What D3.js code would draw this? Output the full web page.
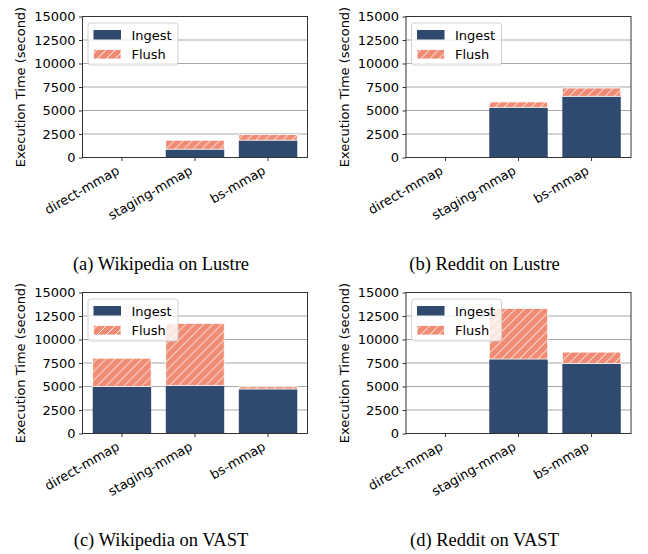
<!DOCTYPE html>
<html>
<head>
<meta charset="UTF-8">
<title>Execution Time</title>
<script src="https://d3js.org/d3.v7.min.js"></script>
<style>
  body {margin: 0; background: #fff;}
  svg text {font-family: "DejaVu Sans", sans-serif; fill: #000;}
  .caption {font-family: "Liberation Serif", "Times New Roman", serif; font-size: 18.5px;}
</style>
</head>
<body>
<div id="chart"></div>
<script>
var categories = ["direct-mmap", "staging-mmap", "bs-mmap"];
var yTicks = [0, 2500, 5000, 7500, 10000, 12500, 15000];
var seriesNames = ["Ingest", "Flush"];

var wikiLustreIngest = [0, 880, 1840],
    wikiLustreFlush = [0, 960, 600];
var redditLustreIngest = [0, 5340, 6510],
    redditLustreFlush = [0, 570, 880];
var wikiVastIngest = [5010, 5120, 4730],
    wikiVastFlush = [3000, 6600, 250];
var redditVastIngest = [0, 7920, 7460],
    redditVastFlush = [0, 5390, 1200];

var captions = ["(a) Wikipedia on Lustre", "(b) Reddit on Lustre",
                "(c) Wikipedia on VAST", "(d) Reddit on VAST"];

var panels = [
  {ingest: wikiLustreIngest, flush: wikiLustreFlush, ox: 0, oy: 0},
  {ingest: redditLustreIngest, flush: redditLustreFlush, ox: 323.5, oy: 0},
  {ingest: wikiVastIngest, flush: wikiVastFlush, ox: 0, oy: 276},
  {ingest: redditVastIngest, flush: redditVastFlush, ox: 323.5, oy: 276}
];

var ingestColor = "#2f4a6e",
    flushColor = "#ef8c73";

var W = 648, H = 554;
var plotW = 225, plotH = 141;

var svg = d3.select("#chart").append("svg")
    .attr("width", W)
    .attr("height", H);

// hatch for the flush bars
var hs = 9;
var defs = svg.append("defs");
var pat = defs.append("pattern")
    .attr("id", "hatch")
    .attr("patternUnits", "userSpaceOnUse")
    .attr("width", hs)
    .attr("height", hs);
pat.append("rect").attr("width", hs).attr("height", hs).attr("fill", flushColor);
pat.append("path")
    .attr("d", "M-2,2 L2,-2 M0," + hs + " L" + hs + ",0 M" + (hs - 2) + "," + (hs + 2) + " L" + (hs + 2) + "," + (hs - 2))
    .attr("stroke", "#fff")
    .attr("stroke-width", 0.9);

var x = d3.scaleBand()
    .domain(categories)
    .range([0, plotW])
    .paddingInner(0.2)
    .paddingOuter(0.14);

var y = d3.scaleLinear()
    .domain([0, 15000])
    .range([plotH, 0]);

panels.forEach(function(p, k) {
  var g = svg.append("g")
      .attr("transform", "translate(" + (p.ox + 82.5) + "," + (p.oy + 16.5) + ")");

  // grid
  g.selectAll(".grid").data(yTicks).enter().append("line")
      .attr("x1", 0).attr("x2", plotW)
      .attr("y1", function(d) {return y(d)})
      .attr("y2", function(d) {return y(d)})
      .attr("stroke", "#a8a8a8")
      .attr("stroke-width", 1);

  // bars
  g.selectAll(".ingest").data(p.ingest).enter().append("rect")
      .attr("x", function(d, i) {return x(categories[i])})
      .attr("width", x.bandwidth())
      .attr("y", function(d) {return y(d)})
      .attr("height", function(d) {return plotH - y(d)})
      .attr("fill", ingestColor);

  var stacked = p.flush.map(function(d, i) {return {cat: categories[i], base: p.ingest[i], v: d}})
      .filter(function(d) {return d.v > 0});
  g.selectAll(".flush").data(stacked).enter().append("rect")
      .attr("x", function(d) {return x(d.cat)})
      .attr("width", x.bandwidth())
      .attr("y", function(d) {return y(d.base + d.v)})
      .attr("height", function(d) {return plotH - y(d.v)})
      .attr("fill", "url(#hatch)")
      .attr("stroke", "#fff")
      .attr("stroke-width", 0.8);

  // y axis
  var yAxis = d3.axisLeft(y).tickValues(yTicks).tickSize(3.5).tickPadding(3.5)
      .tickFormat(d3.format("d"));
  var ya = g.append("g").call(yAxis);
  ya.select(".domain").remove();
  ya.selectAll("line").attr("stroke", "#333");
  ya.selectAll("text").style("font-size", "13px").attr("fill", "#000");

  // x axis
  var xAxis = d3.axisBottom(x).tickSize(3.5).tickPadding(0);
  var xa = g.append("g").attr("transform", "translate(0," + plotH + ")").call(xAxis);
  xa.select(".domain").remove();
  xa.selectAll("line").attr("stroke", "#333");
  xa.selectAll("text")
      .style("font-size", "13px")
      .attr("fill", "#000")
      .attr("text-anchor", "end")
      .attr("y", 0).attr("dy", 0)
      .attr("transform", "translate(-1.6,15.6) rotate(-30)");

  // frame
  g.append("rect")
      .attr("width", plotW).attr("height", plotH)
      .attr("fill", "none")
      .attr("stroke", "#333")
      .attr("stroke-width", 1);

  // y label
  g.append("text")
      .attr("transform", "translate(-57.5," + (plotH / 2) + ") rotate(-90)")
      .attr("text-anchor", "middle")
      .style("font-size", "13px")
      .text("Execution Time (second)");

  // legend
  var lg = g.append("g").attr("transform", "translate(5.5,6.5)");
  lg.append("rect")
      .attr("width", 90).attr("height", 42)
      .attr("rx", 3).attr("ry", 3)
      .attr("fill", "#fff").attr("fill-opacity", 0.8)
      .attr("stroke", "#d0d0d0").attr("stroke-width", 1);
  seriesNames.forEach(function(s, i) {
    lg.append("rect")
        .attr("x", 5.5).attr("y", 7 + i * 19.5)
        .attr("width", 27.5).attr("height", 9.5)
        .attr("fill", i === 0 ? ingestColor : "url(#hatch)")
        .attr("stroke", i === 0 ? "none" : "#fff")
        .attr("stroke-width", 0.8);
    lg.append("text")
        .attr("x", 43.5).attr("y", 12 + i * 19.5)
        .attr("dy", "0.35em")
        .style("font-size", "13px")
        .text(s);
  });

  // caption
  svg.append("text")
      .attr("class", "caption")
      .attr("x", p.ox + 161)
      .attr("y", p.oy + 269.5)
      .attr("text-anchor", "middle")
      .text(captions[k]);
});
</script>
</body>
</html>
